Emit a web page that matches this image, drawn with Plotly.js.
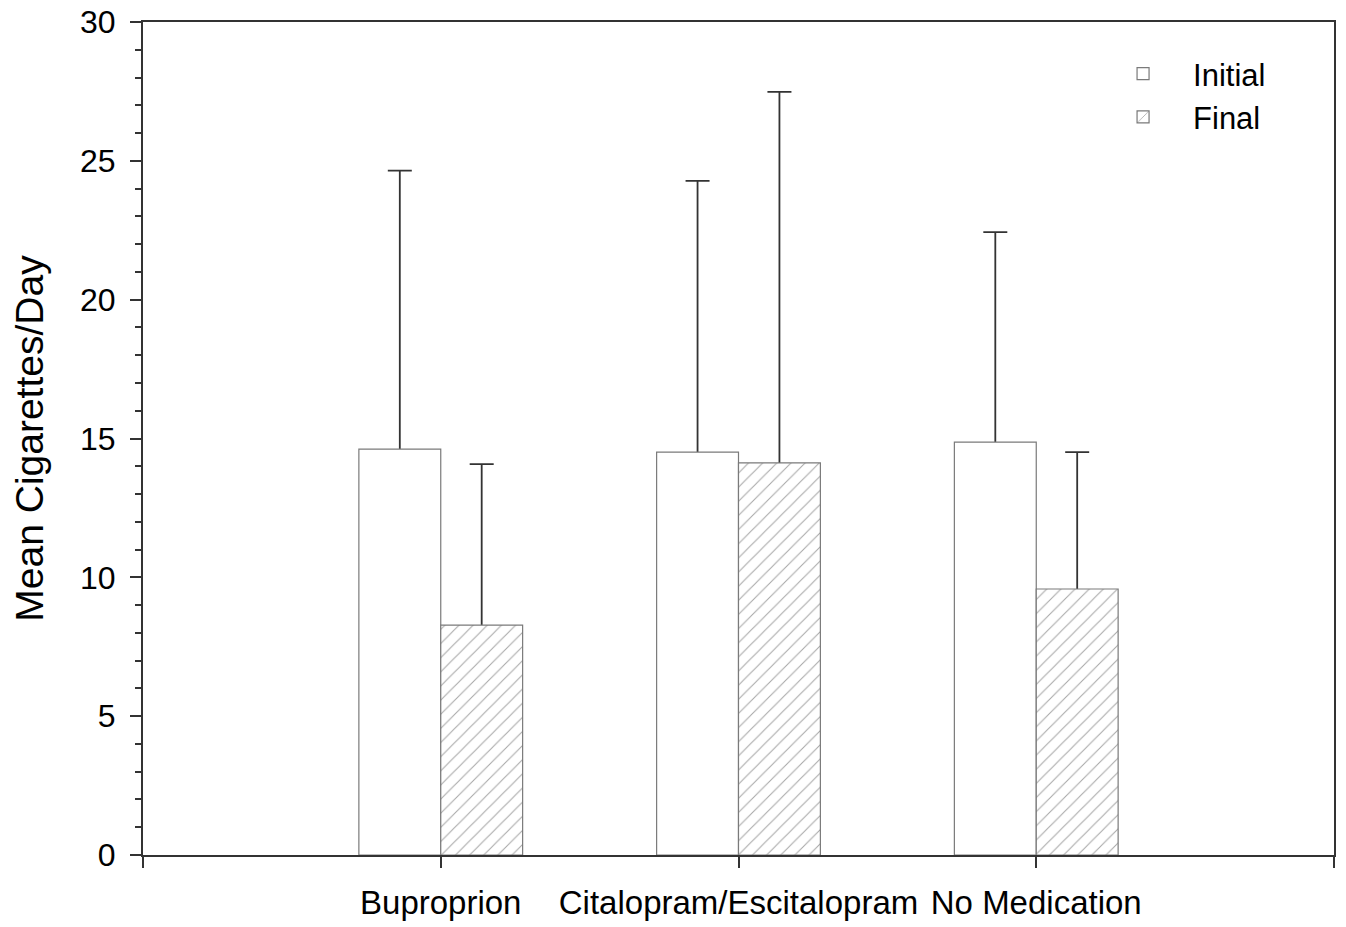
<!DOCTYPE html>
<html>
<head>
<meta charset="utf-8">
<script src="https://cdn.plot.ly/plotly-3.0.1.min.js"></script>
<style>html,body{margin:0;padding:0;background:#fff;}#chart{width:1346px;height:927px;}</style>
</head>
<body>
<div id="chart"></div>
<script>
const categories = ['Buproprion', 'Citalopram/Escitalopram', 'No Medication'];
const initialMean = [14.62, 14.51, 14.87];
const initialErr = [10.03, 9.77, 7.56];
const finalMean = [8.28, 14.12, 9.58];
const finalErr = [5.80, 13.36, 4.93];
const seriesNames = ['Initial', 'Final'];
const yTicks = [0, 5, 10, 15, 20, 25, 30];

const xPos = categories.map((c, i) => i + 1);
const axisTickVals = [0].concat(xPos, [categories.length + 1]);
const axisTickText = [''].concat(categories, ['']);

const font = '"Liberation Sans", Arial, sans-serif';
const axisColor = '#333333';
const errStyle = {color: '#333333', thickness: 1.8, width: 12};

// error bars are drawn first (from 0 to mean+err) so the opaque bars cover their lower part
function errTrace(mean, err, group) {
  return {
    type: 'bar', x: xPos, y: mean, offsetgroup: group, showlegend: false, hoverinfo: 'skip',
    marker: {color: 'rgba(0,0,0,0)', line: {width: 0}},
    error_y: Object.assign({type: 'data', symmetric: false, array: err, arrayminus: mean}, errStyle)
  };
}

const traces = [
  errTrace(initialMean, initialErr, 'initial'),
  errTrace(finalMean, finalErr, 'final'),
  {
    type: 'bar', name: seriesNames[0], x: xPos, y: initialMean, offsetgroup: 'initial',
    marker: {color: '#ffffff', line: {color: '#7a7a7a', width: 1.2}}
  },
  {
    type: 'bar', name: seriesNames[1], x: xPos, y: finalMean, offsetgroup: 'final',
    marker: {color: '#ffffff', line: {color: '#7a7a7a', width: 1.2},
             pattern: {shape: '/', fillmode: 'overlay', bgcolor: '#ffffff', fgcolor: '#4d4d4d', size: 10, solidity: 0.1}}
  }
];

const layout = {
  width: 1346, height: 927,
  margin: {l: 143, r: 12, t: 22, b: 72},
  paper_bgcolor: '#ffffff', plot_bgcolor: '#ffffff',
  font: {family: font, color: '#000000', size: 32},
  barmode: 'group', bargap: 0.45, bargroupgap: 0,
  showlegend: true,
  legend: {x: 0.7977, y: 0.9700, xanchor: 'left', yanchor: 'top', bgcolor: 'rgba(0,0,0,0)',
           font: {family: font, size: 31, color: '#000'}, tracegroupgap: 0, itemwidth: 90},
  xaxis: {
    range: [0, categories.length + 1], tickvals: axisTickVals, ticktext: axisTickText,
    showgrid: false, zeroline: false, showline: true, linecolor: axisColor, linewidth: 2, mirror: true,
    ticks: 'outside', ticklen: 11, tickwidth: 2, tickcolor: axisColor, ticklabelstandoff: 6,
    tickfont: {family: font, size: 33, color: '#000'}, automargin: false
  },
  yaxis: {
    range: [0, 30], tickvals: yTicks,
    showgrid: false, zeroline: false, showline: true, linecolor: axisColor, linewidth: 2, mirror: true,
    ticks: 'outside', ticklen: 11, tickwidth: 2, tickcolor: axisColor, ticklabelstandoff: 8,
    minor: {dtick: 1, ticks: 'outside', ticklen: 6, tickwidth: 2, tickcolor: axisColor, showgrid: false},
    tickfont: {family: font, size: 32, color: '#000'},
    title: {text: 'Mean Cigarettes/Day', font: {family: font, size: 39, color: '#000'}, standoff: 24},
    automargin: false
  }
};

Plotly.newPlot('chart', traces, layout, {displayModeBar: false, staticPlot: true});
</script>
</body>
</html>
